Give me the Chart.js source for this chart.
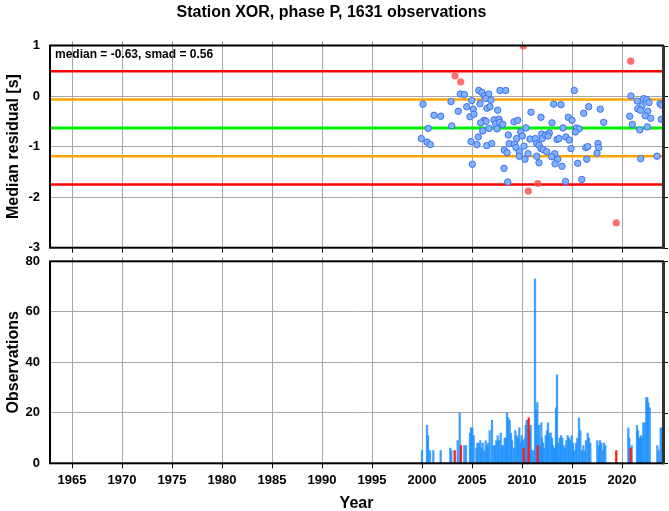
<!DOCTYPE html>
<html lang="en">
<head>
<meta charset="UTF-8">
<title>Station XOR, phase P</title>
<script src="https://cdn.jsdelivr.net/npm/chart.js"></script>
<style>
  html, body { margin: 0; padding: 0; background: #fff; }
  .wrap { position: relative; width: 669px; height: 511px; overflow: hidden; }
  #top { position: absolute; left: 0; top: 0; }
  #bottom { position: absolute; left: 0; top: 250px; }
</style>
</head>
<body>
<div class="wrap">
  <canvas id="top" width="669" height="256"></canvas>
  <canvas id="bottom" width="669" height="261"></canvas>
</div>
<script>
// ---- data ----
const stationTitle = 'Station XOR, phase P, 1631 observations';
const median = -0.63;
const smad = 0.56;

const yearTicks = [1965, 1970, 1975, 1980, 1985, 1990, 1995, 2000, 2005, 2010, 2015, 2020];
const residTicks = [-3, -2, -1, 0, 1];
const obsTicks = [0, 20, 40, 60, 80];

// median residual per event, inside +-2 smad
const blueYears = [
  2000.1, 2000.63, 1999.93, 2000.5, 2000.83, 2001.2, 2001.87, 2002.9, 2002.97, 2003.83,
  2004.23, 2003.63, 2004.47, 2004.8, 2004.97, 2005.13, 2005.2, 2005.03, 2004.9, 2005.5,
  2005.63, 2005.67, 2006.0, 2006.23, 2006.67, 2006.37, 2006.9, 2005.8, 2006.23, 2006.4,
  2005.87, 2006.07, 2006.7, 2006.5, 2006.8, 2007.57, 2006.47, 2006.97, 2007.2, 2007.7,
  2007.37, 2007.77, 2008.07, 2007.5, 2007.8, 2008.37, 2008.63, 2008.23, 2008.5, 2008.2,
  2008.73, 2009.27, 2009.47, 2009.2, 2009.57, 2009.4, 2009.87, 2010.03, 2010.4, 2010.9,
  2011.9, 2009.73, 2010.3, 2009.73, 2010.2, 2010.8, 2010.6, 2011.33, 2011.47, 2011.97,
  2012.03, 2011.7, 2011.9, 2011.47, 2011.7, 2008.57,
  2015.23, 2013.17, 2013.9, 2016.67, 2017.83, 2016.17, 2014.63, 2015.0, 2013.0, 2018.17,
  2014.1, 2015.43, 2015.7, 2015.33, 2012.37, 2012.73, 2012.6, 2013.5, 2013.7, 2014.4,
  2014.73, 2012.13, 2012.47, 2013.27, 2013.57, 2012.97, 2013.3, 2014.0, 2014.9, 2016.37,
  2016.57, 2017.6, 2017.67, 2017.5, 2016.47, 2015.57, 2014.35, 2015.98,
  2020.9, 2021.53, 2022.17, 2022.47, 2022.0, 2022.7, 2021.57, 2021.83, 2022.57, 2022.33,
  2022.87, 2023.8, 2023.97, 2020.77, 2021.03, 2023.93, 2022.53, 2021.77, 2021.87, 2023.5
];
const blueResid = [
  -0.16, -0.64, -0.84, -0.91, -0.96, -0.38, -0.40, -0.11, -0.59, 0.04,
  0.03, -0.30, -0.21, -0.41, -0.09, -0.26, -0.36, -1.35, -0.90, -0.96,
  -0.81, 0.11, 0.07, 0.0, 0.04, -0.05, -0.08, -0.15, -0.48, -0.50,
  -0.53, -0.69, -0.64, -0.24, -0.21, -0.28, -0.98, -0.94, -0.47, -0.46,
  -0.55, -0.52, -0.56, -0.65, 0.11, 0.11, -0.77, -1.07, -1.12, -1.43,
  -0.94, -0.95, -0.84, -0.51, -0.48, -1.02, -0.71, -0.79, -0.63, -0.32,
  -0.42, -1.10, -1.25, -1.19, -0.99, -0.85, -1.14, -0.84, -0.94, -0.75,
  -0.84, -0.97, -1.04, -1.19, -1.32, -1.70,
  0.11, -0.16, -0.17, -0.21, -0.26, -0.34, -0.42, -0.48, -0.53, -0.52,
  -0.63, -0.63, -0.65, -0.71, -0.77, -0.73, -0.79, -0.86, -0.84, -0.81,
  -0.87, -1.06, -1.10, -1.14, -1.25, -1.20, -1.34, -1.39, -1.04, -1.02,
  -1.00, -0.94, -1.02, -1.13, -1.25, -1.33, -1.69, -1.65,
  0.0, -0.10, -0.05, -0.07, -0.19, -0.13, -0.25, -0.28, -0.30, -0.39,
  -0.44, -0.15, -0.18, -0.40, -0.56, -0.46, -0.61, -0.67, -1.24, -1.19
];

// outliers
const redYears = [2003.3, 2003.87, 2010.13, 2020.87, 2011.57, 2010.63, 2019.43];
const redResid = [0.40, 0.28, 0.99, 0.69, -1.73, -1.88, -2.51];

// observations per event
const barYears = [
  2000.0, 2000.5, 2000.6, 2000.8, 2001.13, 2001.87, 2002.83, 2002.93, 2003.57, 2003.77,
  2004.23, 2004.4, 2004.8, 2004.9, 2005.03, 2005.17, 2005.43, 2005.53, 2005.67, 2005.83,
  2005.93, 2006.07, 2006.23, 2006.37, 2006.5, 2006.63, 2006.77, 2007.0, 2007.17, 2007.3,
  2007.43, 2007.57, 2007.7, 2007.87, 2008.0, 2008.13, 2008.27, 2008.4, 2008.5, 2008.63,
  2008.77, 2008.9, 2009.0, 2009.2, 2009.33, 2009.47, 2009.6, 2009.73, 2009.87, 2009.97,
  2010.1, 2010.27, 2010.37, 2010.47, 2010.57, 2010.77, 2010.87, 2011.0, 2011.17, 2011.3,
  2011.43, 2011.53, 2011.7, 2011.83, 2011.93, 2012.0, 2012.1, 2012.23, 2012.37, 2012.5,
  2012.6, 2012.73, 2012.87, 2013.0, 2013.1, 2013.23, 2013.33, 2013.4, 2013.5, 2013.63,
  2013.77, 2013.9, 2014.03, 2014.17, 2014.3, 2014.43, 2014.57, 2014.7, 2014.83, 2014.97,
  2015.1, 2015.23, 2015.4, 2015.53, 2015.7, 2015.83, 2016.0, 2016.13, 2016.27, 2016.4,
  2016.57, 2016.7, 2016.83, 2017.53, 2017.67, 2017.8, 2017.93, 2018.07, 2018.2, 2018.33,
  2020.63, 2020.73, 2020.97, 2021.5, 2021.6, 2021.7, 2021.8, 2021.9, 2022.0, 2022.13,
  2022.27, 2022.43, 2022.53, 2022.63, 2022.77, 2023.53, 2023.67, 2023.87, 2024.0
];
const barCounts = [
  5, 15, 11, 5, 5, 5, 6, 5, 9, 20,
  7, 7, 12, 14, 14, 11, 6, 8, 8, 9,
  6, 8, 5, 9, 7, 8, 13, 17, 7, 7,
  9, 11, 9, 12, 7, 7, 10, 10, 20, 18,
  17, 12, 9, 6, 13, 11, 10, 14, 8, 11,
  9, 10, 15, 17, 17, 13, 15, 5, 5, 73,
  21, 24, 15, 7, 16, 10, 8, 6, 11, 13,
  16, 12, 12, 10, 7, 6, 6, 22, 35, 8,
  10, 11, 10, 7, 6, 9, 11, 10, 9, 11,
  8, 5, 8, 10, 18, 13, 5, 7, 5, 9,
  12, 10, 8, 9, 7, 9, 8, 5, 8, 7,
  14, 10, 7, 15, 13, 10, 10, 11, 10, 16,
  16, 26, 26, 24, 22, 7, 5, 14, 14
];
const redBarYears = [2003.27, 2003.9, 2010.17, 2010.67, 2011.57, 2019.43, 2020.87];
const redBarCounts = [5, 7, 6, 18, 7, 5, 6];

// ---- chart setup ----
const FONT = "'Liberation Sans', Arial, Helvetica, sans-serif";
const xMin = 1962.8, xMax = 2024.1;
const gridColor = '#a8a8a8';

function pairs(xs, ys) {
  return xs.map((x, i) => ({ x: x, y: ys[i] }));
}

// frame round the plot plus small outward ticks on top and right
const framePlugin = {
  id: 'frame',
  afterDraw(chart) {
    const ctx = chart.ctx, a = chart.chartArea;
    const xs = chart.scales.x, ys = chart.scales.y;
    ctx.save();
    ctx.strokeStyle = '#888';
    ctx.lineWidth = 1;
    xs.ticks.forEach(t => {
      const px = Math.round(xs.getPixelForValue(t.value)) + 0.5;
      ctx.beginPath(); ctx.moveTo(px, a.top); ctx.lineTo(px, a.top - 4); ctx.stroke();
    });
    ctx.strokeStyle = '#000';
    ys.ticks.forEach(t => {
      const py = Math.round(ys.getPixelForValue(t.value)) + 0.5;
      ctx.beginPath(); ctx.moveTo(a.right, py); ctx.lineTo(a.right + 5, py); ctx.stroke();
    });
    ctx.lineWidth = 2;
    ctx.strokeRect(a.left, a.top, a.right - a.left, a.bottom - a.top);
    ctx.strokeStyle = '#333';
    ctx.lineWidth = 3;
    ctx.beginPath(); ctx.moveTo(a.right + 0.5, a.top); ctx.lineTo(a.right + 0.5, a.bottom + 1); ctx.stroke();
    ctx.restore();
  }
};

const statsLabel = {
  id: 'statsLabel',
  afterDatasetsDraw(chart) {
    const ctx = chart.ctx, a = chart.chartArea;
    ctx.save();
    ctx.font = 'bold 12px ' + FONT;
    ctx.fillStyle = '#000';
    ctx.textBaseline = 'middle';
    ctx.fillText('median = ' + median.toFixed(2) + ', smad = ' + smad.toFixed(2), a.left + 5, a.top + 9);
    ctx.restore();
  }
};

function yearAxis(showLabels, height) {
  return {
    type: 'linear', min: xMin, max: xMax, offset: false,
    afterBuildTicks: s => { s.ticks = yearTicks.map(v => ({ value: v })); },
    afterFit: s => {
      s.height = height;
      s.paddingLeft = 0; s.paddingRight = 0;
    },
    ticks: {
      display: showLabels, autoSkip: false, maxRotation: 0, padding: 4,
      color: '#000', font: { family: FONT, size: 13, weight: 'bold' },
      callback: v => String(v)
    },
    grid: { color: gridColor, tickColor: '#000', tickLength: 5, offset: false },
    border: { display: false },
    title: {
      display: showLabels, text: 'Year', color: '#000',
      font: { family: FONT, size: 16, weight: 'bold' }, padding: { top: 0, bottom: -2 }
    }
  };
}

function valueAxis(min, max, tickList, title) {
  return {
    type: 'linear', min: min, max: max,
    afterBuildTicks: s => { s.ticks = tickList.map(v => ({ value: v })); },
    afterFit: s => {
      s.width = 50;
      s.paddingTop = 0; s.paddingBottom = 0;
    },
    ticks: {
      padding: 10, color: '#000', font: { family: FONT, size: 13, weight: 'bold' },
      callback: v => String(v)
    },
    grid: { color: gridColor, drawTicks: false },
    border: { display: false },
    title: {
      display: true, text: title, color: '#000',
      font: { family: FONT, size: 16, weight: 'bold' }, padding: { top: 3.8, bottom: 0 }
    }
  };
}

function hLine(v, color, width) {
  return {
    type: 'line',
    data: [{ x: xMin, y: v }, { x: xMax, y: v }],
    borderColor: color, borderWidth: width, pointRadius: 0, order: 2
  };
}

new Chart(document.getElementById('top'), {
  type: 'scatter',
  data: {
    datasets: [
      {
        data: pairs(redYears, redResid),
        backgroundColor: 'rgba(255, 85, 85, 0.85)', borderWidth: 0, pointRadius: 3.6, order: 0
      },
      {
        data: pairs(blueYears, blueResid),
        backgroundColor: '#80b3ff', borderColor: '#3f6ff0', borderWidth: 1, pointRadius: 3.2, order: 1
      },
      hLine(median, '#00ee00', 3),
      hLine(median + smad, '#ffa500', 2.5),
      hLine(median - smad, '#ffa500', 2.5),
      hLine(median + 2 * smad, '#ff0000', 2.5),
      hLine(median - 2 * smad, '#ff0000', 2.5)
    ]
  },
  options: {
    responsive: false, animation: false,
    layout: { padding: { left: 0, right: 6, top: 0, bottom: 0 } },
    plugins: {
      legend: { display: false }, tooltip: { enabled: false },
      title: {
        display: true, text: stationTitle, color: '#000',
        font: { family: FONT, size: 16, weight: 'bold' }, padding: { top: 3, bottom: 23.3 }
      }
    },
    scales: {
      x: yearAxis(false, 8.3),
      y: valueAxis(-3, 1, residTicks, 'Median residual [s]')
    }
  },
  plugins: [framePlugin, statsLabel]
});

new Chart(document.getElementById('bottom'), {
  type: 'bar',
  data: {
    datasets: [
      {
        data: pairs(redBarYears, redBarCounts),
        backgroundColor: '#ff1a1a', barThickness: 1.6, grouped: false, order: 0
      },
      {
        data: pairs(barYears, barCounts),
        backgroundColor: 'rgba(30, 144, 255, 0.85)', barThickness: 1.6, grouped: false, order: 1
      }
    ]
  },
  options: {
    responsive: false, animation: false,
    layout: { padding: { left: 0, right: 6, top: 11.3, bottom: 0 } },
    plugins: { legend: { display: false }, tooltip: { enabled: false } },
    scales: {
      x: yearAxis(true, 47.7),
      y: valueAxis(0, 80, obsTicks, 'Observations')
    }
  },
  plugins: [framePlugin]
});
</script>
</body>
</html>
